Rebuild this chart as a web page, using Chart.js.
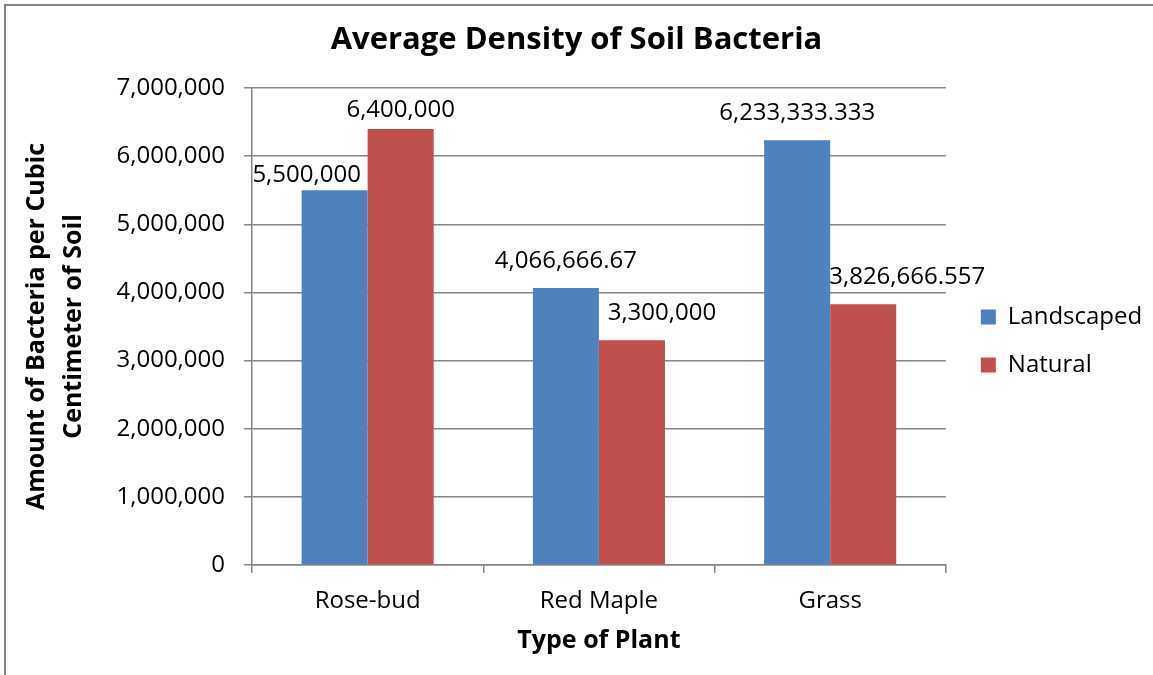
<!DOCTYPE html>
<html>
<head>
<meta charset="utf-8">
<script src="https://cdn.jsdelivr.net/npm/chart.js@4.4.1/dist/chart.umd.min.js"></script>
<style>
  html, body { margin: 0; padding: 0; background: #fff; }
  #wrap { position: relative; width: 1153px; height: 675px; }
</style>
</head>
<body>
<div id="wrap"><canvas id="soilChart"></canvas></div>
<script>
// chart data
const plants = ["Rose-bud", "Red Maple", "Grass"];
const landscaped = [5500000, 4066666.67, 6233333.333];
const natural = [6400000, 3300000, 3826666.557];
const yTicks = [0, 1000000, 2000000, 3000000, 4000000, 5000000, 6000000, 7000000];

// hand nudges of the value labels (dx, dy), like the moved labels in the original
const labelNudge = [
    [[-28, 12], [0, 0], [0, 0]],
    [[0, 8], [30, 0], [44, 0]],
];

const gray = "#868686";
const family = '"Open Sans", "Noto Sans", sans-serif';

const fmt = (v) => v.toLocaleString("en-US", { maximumFractionDigits: 3 });

// frame round the chart
const frame = {
    id: "frame",
    beforeDraw(chart) {
        const c = chart.ctx;
        c.save();
        c.strokeStyle = gray;
        c.lineWidth = 2;
        c.beginPath();
        c.moveTo(5, chart.height);
        c.lineTo(5, 5);
        c.lineTo(chart.width, 5);
        c.stroke();
        c.restore();
    },
};

// numbers over the bars
const valueLabels = {
    id: "valueLabels",
    afterDatasetsDraw(chart) {
        const c = chart.ctx;
        c.save();
        c.font = "24px " + family;
        c.fillStyle = "#000";
        c.textAlign = "center";
        c.textBaseline = "middle";
        chart.data.datasets.forEach((ds, i) => {
            chart.getDatasetMeta(i).data.forEach((bar, j) => {
                const [dx, dy] = labelNudge[i][j];
                c.fillText(fmt(ds.data[j]), bar.x + dx, bar.y - 27 + dy);
            });
        });
        c.restore();
    },
};

const ctx = document.getElementById("soilChart");

new Chart(ctx, {
    type: "bar",
    data: {
        labels: plants,
        datasets: [
            { label: "Landscaped", data: landscaped, backgroundColor: "#4F81BD" },
            { label: "Natural", data: natural, backgroundColor: "#C0504D" },
        ],
    },
    options: {
        responsive: true,
        maintainAspectRatio: false,
        animation: false,
        locale: "en-US",
        categoryPercentage: 0.571,
        barPercentage: 1,
        layout: { padding: { left: 6, right: 6, top: 0, bottom: 0 } },
        plugins: {
            title: {
                display: true,
                text: "Average Density of Soil Bacteria",
                color: "#000",
                font: { family: family, size: 31, weight: "bold", lineHeight: "40px" },
                padding: { top: 20, bottom: 28 },
            },
            legend: {
                position: "right",
                title: { display: true, text: "", padding: 0, font: { size: 6, lineHeight: "7px" } },
                labels: {
                    boxWidth: 15,
                    boxHeight: 15,
                    padding: 24,
                    color: "#000",
                    font: { family: family, size: 24 },
                },
            },
            tooltip: { enabled: false },
        },
        scales: {
            x: {
                grid: { drawOnChartArea: false, color: gray, lineWidth: 1.5, tickLength: 8, offset: true },
                border: { color: gray, width: 1.5 },
                ticks: { color: "#000", font: { family: family, size: 24 }, padding: 14, maxRotation: 0 },
                title: {
                    display: true,
                    text: "Type of Plant",
                    color: "#000",
                    font: { family: family, size: 25, weight: "bold", lineHeight: "28px" },
                    padding: { top: 0, bottom: 20 },
                },
                afterFit: (s) => { s.height = 110; },
            },
            y: {
                min: 0,
                max: 7000000,
                afterBuildTicks: (s) => { s.ticks = yTicks.map((v) => ({ value: v })); },
                grid: { color: gray, lineWidth: 1.5, tickLength: 8 },
                border: { color: gray, width: 1.5 },
                ticks: {
                    color: "#000",
                    font: { family: family, size: 24 },
                    padding: 19,
                    callback: (v) => fmt(v),
                },
                title: {
                    display: true,
                    text: ["Amount of Bacteria per Cubic", "Centimeter of Soil"],
                    color: "#000",
                    font: { family: family, size: 25, weight: "bold", lineHeight: "37px" },
                    padding: { top: 12.5, bottom: 0 },
                },
                afterFit: (s) => { s.width = 246; },
            },
            // empty strip between the plot and the legend
            gap: {
                position: "right",
                grid: { display: false },
                border: { display: false },
                ticks: { display: false },
                afterFit: (s) => { s.width = 11; },
            },
        },
    },
    plugins: [frame, valueLabels],
});
</script>
</body>
</html>
